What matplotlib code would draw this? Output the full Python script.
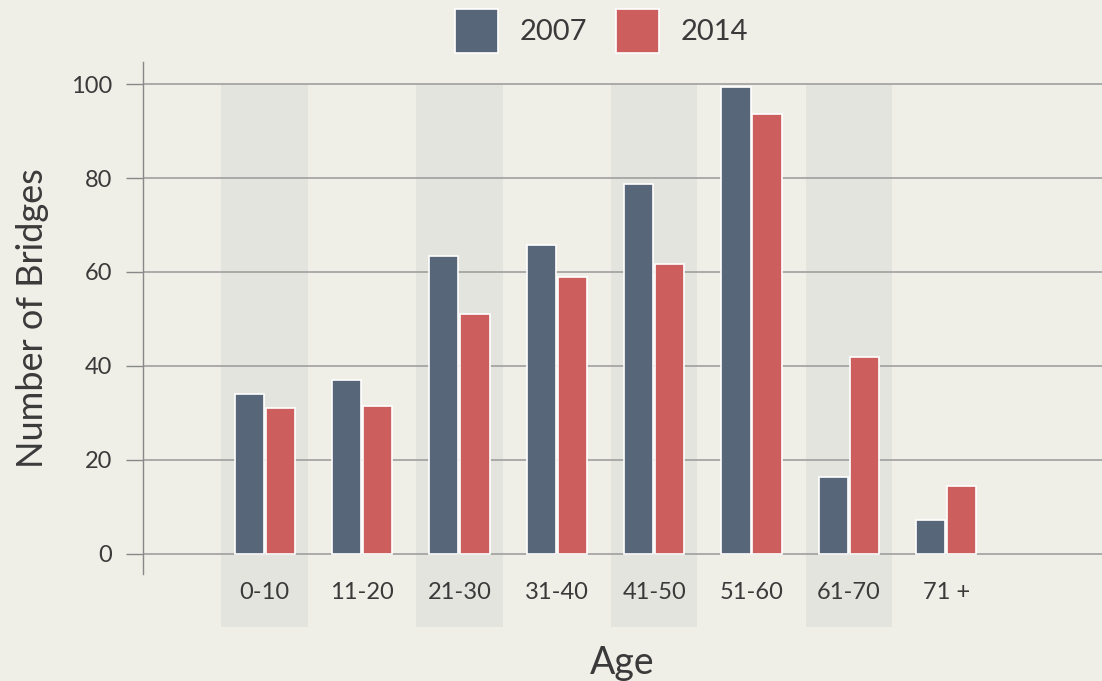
import matplotlib.pyplot as plt
import numpy as np

ages = ["0-10", "11-20", "21-30", "31-40", "41-50", "51-60", "61-70", "71 +"]
bridges_2007 = [34, 37, 63.5, 65.7, 78.8, 99.3, 16.4, 7.2]
bridges_2014 = [31, 31.4, 51, 59, 61.6, 93.7, 41.9, 14.5]
shaded = [0, 2, 4, 6]

bg = "#efeee7"
band = "#e3e4de"
dark = "#586679"
red = "#cc5e5e"
txt = "#3a3a3a"

plt.rcParams["font.family"] = ["Lato", "DejaVu Sans"]

fig = plt.figure(figsize=(11.02, 6.81), dpi=100, facecolor=bg)
ax = fig.add_axes([143 / 1102, 1 - 574 / 681, 1 - 143 / 1102, (574 - 62) / 681])
ax.set_facecolor(bg)

x = np.arange(len(ages))
w = 0.3

# shaded bands behind every other group, running down past the axis
for i in shaded:
    ax.bar(i, 115.5, bottom=-15.5, width=0.89, color=band, zorder=0, clip_on=False)

ax.bar(x - w / 2 - 0.01, bridges_2007, width=w, color=dark, edgecolor="white",
       linewidth=1.2, zorder=3, label="2007")
ax.bar(x + w / 2 + 0.01, bridges_2014, width=w, color=red, edgecolor="white",
       linewidth=1.2, zorder=3, label="2014")

ax.set_xlim(-1.25, 8.6)
ax.set_ylim(-4.3, 104.7)
ax.set_yticks([0, 20, 40, 60, 80, 100])
ax.yaxis.grid(True, color="#999999", linewidth=1.1, zorder=1)
ax.set_axisbelow(True)
ax.tick_params(axis="y", length=12, width=1, color="#888888", labelsize=17,
               labelcolor=txt, pad=10)
ax.set_xticks(x)
ax.set_xticklabels(ages)
ax.tick_params(axis="x", length=0, labelsize=17, labelcolor=txt, pad=6)

for s in ["top", "right", "bottom"]:
    ax.spines[s].set_visible(False)
ax.spines["left"].set_color("#888888")
ax.spines["left"].set_linewidth(1)

ax.set_ylabel("Number of Bridges", fontsize=26, color=txt, labelpad=16)
ax.set_xlabel("Age", fontsize=27, color=txt, labelpad=30)

leg = fig.legend(loc="upper center", bbox_to_anchor=(0.546, 1.026), ncol=2,
                 frameon=False, fontsize=21, handlelength=1.45, handleheight=1.95,
                 columnspacing=1.0, handletextpad=0.75)
for t in leg.get_texts():
    t.set_color(txt)

fig.savefig("out.png", dpi=100, facecolor=bg)
